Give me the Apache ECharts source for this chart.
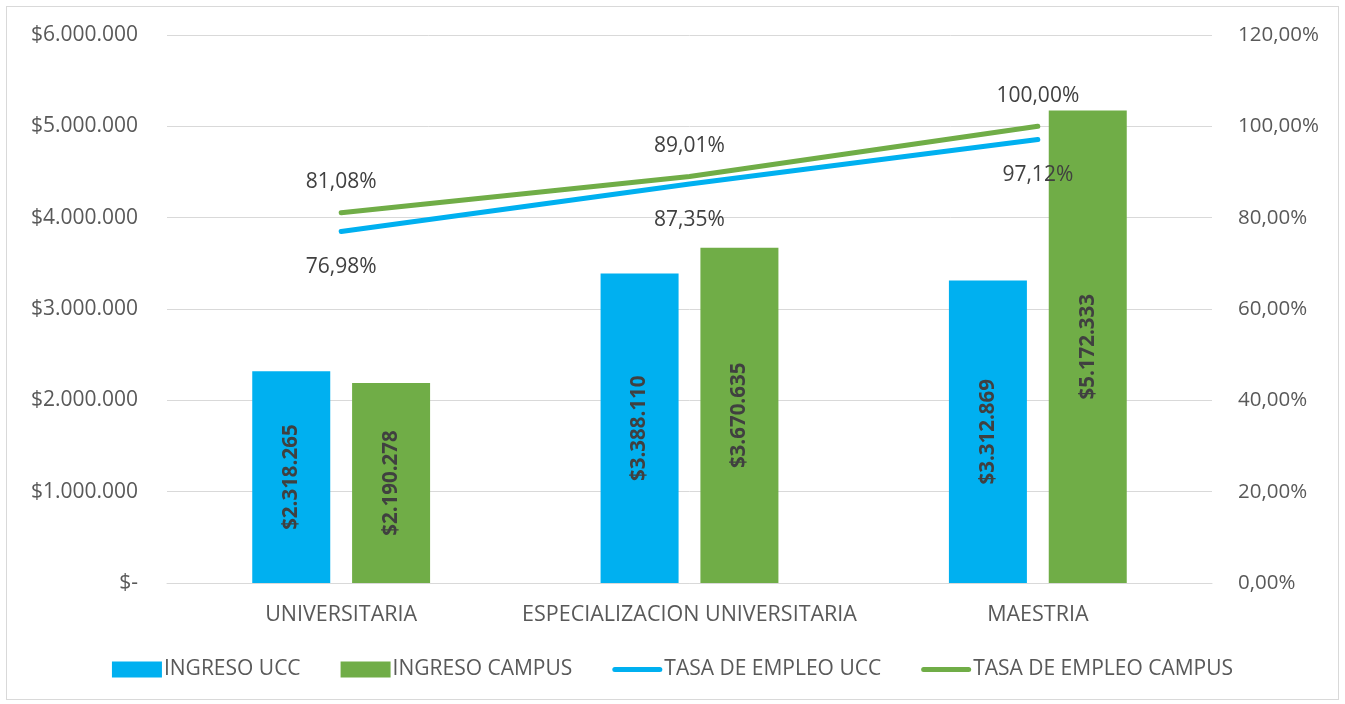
<!DOCTYPE html>
<html>
<head>
<meta charset="utf-8">
<script src="https://cdn.jsdelivr.net/npm/echarts@6/dist/echarts.min.js"></script>
<style>
  html, body { margin: 0; padding: 0; background: #fff; }
  #wrap { position: absolute; left: 6px; top: 6px; width: 1333px; height: 694px; border: 1px solid #d9d9d9; box-sizing: border-box; }
  #chart { position: absolute; left: 0; top: 0; width: 1345px; height: 704px; }
</style>
</head>
<body>
<div id="wrap"></div>
<div id="chart"></div>
<script>
// categorías y valores
const categories = ['UNIVERSITARIA', 'ESPECIALIZACION UNIVERSITARIA', 'MAESTRIA'];
const ingresoUcc = [2318265, 3388110, 3312869];
const ingresoCampus = [2190278, 3670635, 5172333];
const tasaUcc = [76.98, 87.35, 97.12];
const tasaCampus = [81.08, 89.01, 100.0];

const FONT = '"Open Sans", "Noto Sans", sans-serif';
const TEXT = '#595959';
const BLUE = '#00B0F0';
const GREEN = '#70AD47';
// icono de línea para la leyenda
const LINE_ICON = 'path://M0,0 L0,0 M50,16 L50,16 M2.5,5.5 L47.5,5.5 A2.5,2.5 0 0 1 47.5,10.5 L2.5,10.5 A2.5,2.5 0 0 1 2.5,5.5 Z';

function money(v) {
  if (v === 0) return '$-';
  return '$' + String(Math.round(v)).replace(/\B(?=(\d{3})+(?!\d))/g, '.');
}
function pct(v) {
  return v.toFixed(2).replace('.', ',') + '%';
}

const myChart = echarts.init(document.getElementById('chart'));
myChart.setOption({
  animation: false,
  textStyle: { fontFamily: FONT },
  grid: { left: 167, right: 133, top: 35, bottom: 121 },
  legend: {
    bottom: 19,
    left: 'center',
    itemWidth: 50,
    itemHeight: 16,
    itemGap: 40,
    textStyle: { fontSize: 21, color: TEXT, fontFamily: FONT, padding: [0, 0, 0, -3] },
    data: [
      { name: 'INGRESO UCC', icon: 'rect' },
      { name: 'INGRESO CAMPUS', icon: 'rect' },
      { name: 'TASA DE EMPLEO UCC', icon: LINE_ICON, itemStyle: { color: BLUE, opacity: 1 } },
      { name: 'TASA DE EMPLEO CAMPUS', icon: LINE_ICON, itemStyle: { color: GREEN, opacity: 1 } },
    ],
  },
  xAxis: {
    type: 'category',
    data: categories,
    axisTick: { show: false },
    axisLine: { lineStyle: { color: '#d9d9d9', width: 1 } },
    axisLabel: { fontSize: 21.5, color: TEXT, margin: 21, interval: 0 },
  },
  yAxis: [
    {
      type: 'value',
      min: 0,
      max: 6000000,
      interval: 1000000,
      axisLine: { show: false },
      axisTick: { show: false },
      splitLine: { lineStyle: { color: '#d9d9d9', width: 1 } },
      axisLabel: { fontSize: 21, color: TEXT, margin: 29, formatter: money },
    },
    {
      type: 'value',
      min: 0,
      max: 120,
      interval: 20,
      axisLine: { show: false },
      axisTick: { show: false },
      splitLine: { show: false },
      axisLabel: { fontSize: 20.5, color: TEXT, margin: 26, formatter: pct },
    },
  ],
  series: [
    {
      name: 'INGRESO UCC',
      type: 'bar',
      data: ingresoUcc,
      barWidth: 78,
      barGap: '28%',
      itemStyle: { color: BLUE },
      label: {
        show: true,
        position: 'inside',
        rotate: 90,
        fontSize: 20.5,
        fontWeight: 'bold',
        color: '#404040',
        formatter: (p) => money(p.value),
      },
    },
    {
      name: 'INGRESO CAMPUS',
      type: 'bar',
      data: ingresoCampus,
      barWidth: 78,
      barGap: '28%',
      itemStyle: { color: GREEN },
      label: {
        show: true,
        position: 'inside',
        rotate: 90,
        fontSize: 20.5,
        fontWeight: 'bold',
        color: '#404040',
        formatter: (p) => money(p.value),
      },
    },
    {
      name: 'TASA DE EMPLEO UCC',
      type: 'line',
      yAxisIndex: 1,
      data: tasaUcc,
      symbol: 'circle',
      symbolSize: 0.01,
      showSymbol: true,
      lineStyle: { color: BLUE, width: 5, cap: 'round' },
      itemStyle: { color: BLUE },
      label: {
        show: true,
        position: 'bottom',
        distance: 25,
        fontSize: 21,
        color: '#404040',
        formatter: (p) => pct(p.value),
      },
    },
    {
      name: 'TASA DE EMPLEO CAMPUS',
      type: 'line',
      yAxisIndex: 1,
      data: tasaCampus,
      symbol: 'circle',
      symbolSize: 0.01,
      showSymbol: true,
      lineStyle: { color: GREEN, width: 5, cap: 'round' },
      itemStyle: { color: GREEN },
      label: {
        show: true,
        position: 'top',
        distance: 20,
        fontSize: 21,
        color: '#404040',
        formatter: (p) => pct(p.value),
      },
    },
  ],
});
</script>
</body>
</html>
